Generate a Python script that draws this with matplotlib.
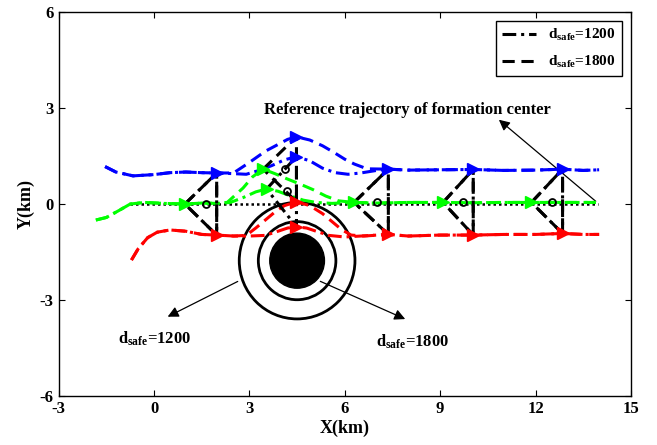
import matplotlib
matplotlib.use("Agg")
import matplotlib.pyplot as plt
from matplotlib.patches import Circle
from matplotlib.lines import Line2D
import numpy as np

plt.rcParams['font.family'] = ['Liberation Serif', 'DejaVu Serif']
plt.rcParams['font.weight'] = 'bold'
plt.rcParams['axes.unicode_minus'] = False
plt.rcParams['mathtext.fontset'] = 'custom'
plt.rcParams['mathtext.rm'] = 'Liberation Serif:bold'
plt.rcParams['mathtext.it'] = 'Liberation Serif:bold'
plt.rcParams['mathtext.bf'] = 'Liberation Serif:bold'

# ---- UAV trajectories (km) ----
blue_x_1200 = [-1.54, -1.2, -0.66, 0.0, 0.5, 1.0, 1.5, 1.97, 2.5, 2.9, 3.3, 3.7, 4.1, 4.48, 4.9,
               5.3, 5.7, 6.1, 6.5, 7.0, 7.37, 8.0, 9.0, 10.04, 11.0, 12.0, 12.85, 13.5, 14.0]
blue_y_1200 = [1.17, 1.0, 0.88, 0.92, 0.98, 1.0, 0.98, 0.97, 0.95, 0.93, 1.05, 1.2, 1.38, 1.48, 1.35,
               1.12, 0.98, 0.93, 0.97, 1.05, 1.09, 1.06, 1.07, 1.08, 1.05, 1.06, 1.09, 1.05, 1.07]
blue_x_1800 = [-1.54, -1.2, -0.66, 0.0, 0.5, 1.0, 1.5, 1.97, 2.5, 3.0, 3.5, 3.86, 4.2, 4.48, 4.9,
               5.3, 5.63, 6.0, 6.3, 6.7, 7.37, 8.0, 9.0, 10.04, 11.0, 12.0, 12.85, 13.5, 14.0]
blue_y_1800 = [1.17, 1.0, 0.88, 0.92, 0.98, 1.0, 0.98, 0.97, 0.97, 1.3, 1.65, 1.84, 2.02, 2.1, 2.0,
               1.82, 1.63, 1.4, 1.25, 1.1, 1.09, 1.06, 1.07, 1.08, 1.05, 1.06, 1.09, 1.05, 1.07]

green_x_1200 = [-1.83, -1.5, -1.1, -0.75, -0.3, 0.3, 0.97, 1.5, 2.0, 2.4, 2.8, 3.2, 3.54, 3.9, 4.3,
                4.7, 5.1, 5.6, 6.29, 7.0, 8.0, 9.09, 10.0, 11.0, 11.87, 12.5, 13.2, 13.9]
green_y_1200 = [-0.5, -0.42, -0.2, 0.0, 0.05, 0.02, 0.0, 0.03, 0.02, 0.05, 0.2, 0.38, 0.47, 0.4, 0.25,
                0.12, 0.05, 0.02, 0.05, 0.03, 0.05, 0.05, 0.04, 0.05, 0.05, 0.05, 0.05, 0.05]
green_x_1800 = [-1.83, -1.5, -1.1, -0.75, -0.3, 0.3, 0.97, 1.5, 2.0, 2.3, 2.8, 3.1, 3.43, 3.8, 4.2,
                4.6, 5.0, 5.4, 5.8, 6.29, 7.0, 8.0, 9.09, 10.0, 11.0, 11.87, 12.5, 13.2, 13.9]
green_y_1800 = [-0.5, -0.42, -0.2, 0.0, 0.05, 0.02, 0.0, 0.03, 0.02, 0.05, 0.5, 0.85, 1.09, 0.95, 0.78,
                0.62, 0.45, 0.25, 0.1, 0.05, 0.03, 0.05, 0.05, 0.04, 0.05, 0.05, 0.05, 0.05, 0.05]

red_x_1200 = [-0.71, -0.5, -0.2, 0.1, 0.5, 1.0, 1.5, 1.97, 2.5, 3.0, 3.5, 3.9, 4.2, 4.48, 4.8,
              5.1, 5.5, 6.0, 6.5, 7.37, 8.0, 9.0, 10.04, 11.0, 12.0, 12.85, 13.5, 14.0]
red_y_1200 = [-1.75, -1.4, -1.05, -0.88, -0.81, -0.85, -0.95, -0.97, -1.0, -1.0, -0.98, -0.85, -0.75,
              -0.71, -0.75, -0.85, -0.98, -1.03, -1.0, -0.95, -1.0, -0.97, -0.97, -0.95, -0.95, -0.92,
              -0.95, -0.95]
red_x_1800 = [-0.71, -0.5, -0.2, 0.1, 0.5, 1.0, 1.5, 1.97, 2.5, 2.9, 3.2, 3.5, 3.8, 4.1, 4.48, 4.9,
              5.3, 5.6, 5.9, 6.2, 6.6, 7.37, 8.0, 9.0, 10.04, 11.0, 12.0, 12.85, 13.5, 14.0]
red_y_1800 = [-1.75, -1.4, -1.05, -0.88, -0.81, -0.85, -0.95, -0.97, -1.0, -0.98, -0.75, -0.5, -0.25,
              -0.05, 0.07, -0.05, -0.3, -0.55, -0.8, -0.97, -1.0, -0.95, -1.0, -0.97, -0.97, -0.95,
              -0.95, -0.92, -0.95, -0.95]

# ---- formation snapshots: (green, blue, red) vertex positions ----
shared_formations = [
    [(0.97, 0.0), (1.97, 0.97), (1.97, -0.97)],
    [(6.29, 0.05), (7.37, 1.09), (7.37, -0.95)],
    [(9.09, 0.05), (10.04, 1.08), (10.04, -0.97)],
    [(11.87, 0.05), (12.85, 1.09), (12.85, -0.92)],
]
formation_1200 = [(3.54, 0.47), (4.48, 1.48), (4.48, -0.71)]
formation_1800 = [(3.43, 1.09), (4.48, 2.1), (4.48, 0.07)]

# ---- reference trajectory of the formation center ----
ref_x = [-0.75, 13.97]
ref_y = [0.0, 0.0]

# ---- obstacle ----
obstacle_center = (4.5, -1.77)
obstacle_radius = 0.86
safe_radii = [1.22, 1.82]

fig = plt.figure(figsize=(6.57, 4.45), dpi=100)
ax = fig.add_axes([0.0893, 0.110, 0.8710, 0.863])

lw = 2.2
tri_ms = 8
dashdot = (0, (4.5, 1.6, 1.0, 1.6))
dashed = (0, (4.0, 2.2))

# obstacle and safety rings
ax.add_patch(Circle(obstacle_center, obstacle_radius, color='black', zorder=2))
for r in safe_radii:
    ax.add_patch(Circle(obstacle_center, r, fill=False, ec='black', lw=2.0, zorder=2))

# reference trajectory
ax.plot(ref_x, ref_y, color='black', ls=(0, (1, 1.2)), lw=1.8, zorder=3)

# trajectories
for xs, ys, c in [(blue_x_1200, blue_y_1200, 'blue'), (green_x_1200, green_y_1200, (0, 1, 0)),
                  (red_x_1200, red_y_1200, 'red')]:
    ax.plot(xs, ys, color=c, ls=dashdot, lw=lw, zorder=4)
for xs, ys, c in [(blue_x_1800, blue_y_1800, 'blue'), (green_x_1800, green_y_1800, (0, 1, 0)),
                  (red_x_1800, red_y_1800, 'red')]:
    ax.plot(xs, ys, color=c, ls=dashed, lw=lw, zorder=4)


def draw_formation(verts, styles):
    closed = verts + [verts[0]]
    xs = [p[0] for p in closed]
    ys = [p[1] for p in closed]
    for st in styles:
        ax.plot(xs, ys, color='black', ls=st, lw=lw, zorder=5)
    for (x, y), c in zip(verts, [(0, 1, 0), 'blue', 'red']):
        ax.plot(x, y, marker='>', color=c, ms=tri_ms, zorder=6)
    cx = np.mean([p[0] for p in verts])
    cy = np.mean([p[1] for p in verts])
    ax.plot(cx, cy, marker='o', mfc='none', mec='black', ms=5, mew=1.3, zorder=6)


for f in shared_formations:
    draw_formation(f, [dashdot, dashed])
draw_formation(formation_1200, [dashdot])
draw_formation(formation_1800, [dashed])

# annotations
arrow_kw = dict(arrowstyle='-|>', color='black', lw=0.9, mutation_scale=16)
ax.annotate('', xy=(10.78, 2.69), xytext=(13.96, 0.03), arrowprops=arrow_kw)
ax.text(7.98, 2.94, 'Reference trajectory of formation center', ha='center', va='center',
        fontsize=12, fontweight='bold')
ax.annotate('', xy=(0.35, -3.56), xytext=(2.71, -2.38), arrowprops=arrow_kw)
ax.text(0.03, -4.2, r'd$_{\rm safe}$=1200', ha='center', va='center', fontsize=12)
ax.annotate('', xy=(7.98, -3.63), xytext=(5.15, -2.38), arrowprops=arrow_kw)
ax.text(8.12, -4.3, r'd$_{\rm safe}$=1800', ha='center', va='center', fontsize=12)

ax.set_xlim(-3, 15)
ax.set_ylim(-6, 6)
ax.set_xticks([-3, 0, 3, 6, 9, 12, 15])
ax.set_yticks([-6, -3, 0, 3, 6])
ax.tick_params(direction='in', top=True, right=True, length=4, labelsize=12)
for lab in ax.get_xticklabels() + ax.get_yticklabels():
    lab.set_fontweight('bold')
for s in ax.spines.values():
    s.set_linewidth(1.0)
ax.set_xlabel('X(km)', fontsize=13, fontweight='bold', labelpad=2)
ax.set_ylabel('Y(km)', fontsize=13, fontweight='bold', labelpad=4)

handles = [Line2D([], [], color='black', ls=dashdot, lw=lw),
           Line2D([], [], color='black', ls=dashed, lw=lw)]
leg = ax.legend(handles, [r'd$_{\rm safe}$=1200', r'd$_{\rm safe}$=1800'], loc='upper right',
                fontsize=11, fancybox=False, edgecolor='black', framealpha=1,
                handlelength=2.2, borderaxespad=0.6, labelspacing=0.7)
leg.get_frame().set_linewidth(1.0)

fig.savefig('out.png', dpi=100)
